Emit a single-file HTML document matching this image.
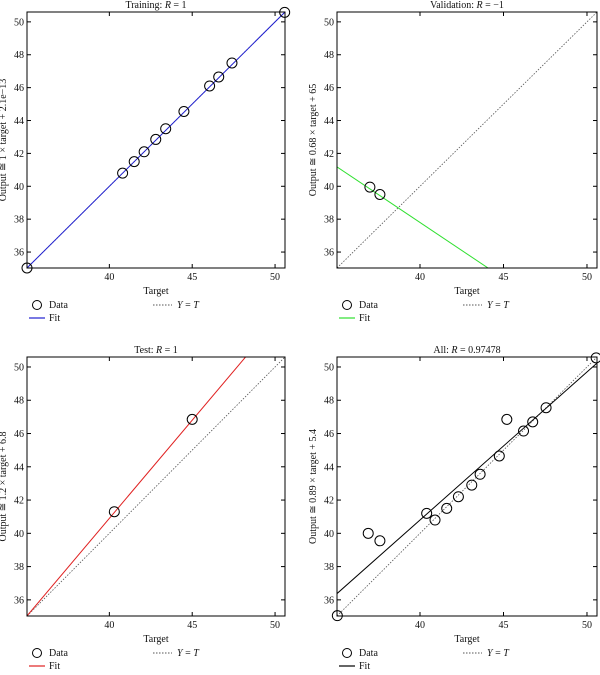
<!DOCTYPE html>
<html><head><meta charset="utf-8"><style>
body{margin:0;background:#fff;width:600px;height:670px;overflow:hidden}
svg text{font-family:"Liberation Serif",serif;fill:#111}
</style></head><body>
<svg id="s" width="600" height="670" xmlns="http://www.w3.org/2000/svg"></svg>
<script>
const trainX=[35.03,40.8,41.5,42.1,42.8,43.4,44.5,46.05,46.6,47.4,50.58];
const trainY=[35.03,40.8,41.5,42.1,42.85,43.5,44.55,46.1,46.65,47.5,50.58];
const valX=[37,37.6];
const valY=[39.95,39.5];
const testX=[40.3,45];
const testY=[41.3,46.85];
const allX=[35.05,36.9,37.6,40.4,40.9,41.6,42.3,43.1,43.6,44.75,45.2,46.2,46.75,47.55,50.55];
const allY=[35.05,40,39.55,41.2,40.8,41.5,42.2,42.9,43.55,44.65,46.85,46.15,46.7,47.55,50.55];
const xTicks=[40,45,50];
const yTicks=[36,38,40,42,44,46,48,50];
const fits=[[1,0],[-0.68,65],[1.18,-6.3],[0.89,5.2]];
const titles=["Training: <tspan font-style='italic'>R</tspan> = 1","Validation: <tspan font-style='italic'>R</tspan> = −1","Test: <tspan font-style='italic'>R</tspan> = 1","All: <tspan font-style='italic'>R</tspan> = 0.97478"];
const ylabels=["Output ≅ 1 × target + 2.1e−13","Output ≅ 0.68 × target + 65","Output ≅ 1.2 × target + 6.8","Output ≅ 0.89 × target + 5.4"];
const colors=["#2020d0","#30e030","#e02020","#000"];
const xs=[trainX,valX,testX,allX], ys=[trainY,valY,testY,allY];
const names=["training","validation","test","all"];
const boxes=[[27,12,285,268],[337,12,597,268],[27,357,285,616],[337,357,597,616]];
const lo=35.03,hi=50.6;
const S=document.getElementById('s');
function mk(t,a,p){const e=document.createElementNS('http://www.w3.org/2000/svg',t);for(const k in a)e.setAttribute(k,a[k]);(p||S).appendChild(e);return e;}
boxes.forEach((b,i)=>{
 const [x0,y0,x1,y1]=b;
 const g=mk('g',{});
 
 
 const sx=v=>x0+(v-lo)/(hi-lo)*(x1-x0), sy=v=>y1-(v-lo)/(hi-lo)*(y1-y0);
 const cp='c'+i;
 const cl=mk('clipPath',{id:cp},g);mk('rect',{x:x0,y:y0,width:x1-x0,height:y1-y0},cl);
 const d=mk('line',{x1:sx(lo),y1:sy(lo),x2:sx(hi),y2:sy(hi),stroke:'#555','stroke-width':0.8,'stroke-dasharray':'1.5,1.5'},g);
 
 
 const [m,c]=fits[i];
 const f=mk('line',{x1:sx(lo),y1:sy(m*lo+c),x2:sx(hi),y2:sy(m*hi+c),stroke:colors[i],'stroke-width':1,'clip-path':`url(#${cp})`},g);
 
 
 mk('rect',{x:x0,y:y0,width:x1-x0,height:y1-y0,fill:'none',stroke:'#000','stroke-width':1},g);
 xTicks.forEach(t=>{const X=sx(t);mk('line',{x1:X,y1:y1,x2:X,y2:y1-4,stroke:'#000'},g);mk('line',{x1:X,y1:y0,x2:X,y2:y0+4,stroke:'#000'},g);
  const tx=mk('text',{x:X,y:y1+12,'font-size':10,'text-anchor':'middle'},g);tx.textContent=t;
  
  });
 yTicks.forEach(t=>{const Y=sy(t);mk('line',{x1:x0,y1:Y,x2:x0+4,y2:Y,stroke:'#000'},g);mk('line',{x1:x1,y1:Y,x2:x1-4,y2:Y,stroke:'#000'},g);
  const tx=mk('text',{x:x0-3,y:Y+3.5,'font-size':10,'text-anchor':'end'},g);tx.textContent=t;
  
  });
 xs[i].forEach((v,j)=>{const p=mk('circle',{cx:sx(v),cy:sy(ys[i][j]),r:5,fill:'none',stroke:'#000','stroke-width':1},g);
  
  });
 const ti=mk('text',{x:(x0+x1)/2,y:y0-4,'font-size':10,'text-anchor':'middle'},g);ti.innerHTML=titles[i];
 
 
 const xl=mk('text',{x:(x0+x1)/2,y:y1+26,'font-size':10,'text-anchor':'middle'},g);xl.textContent='Target';
 
 
 const yl=mk('text',{x:0,y:0,'font-size':10,'text-anchor':'middle',transform:`translate(${x0-21},${(y0+y1)/2}) rotate(-90)`},g);yl.textContent=ylabels[i];
 
 
 const ly=y1+40;
 const lg=mk('g',{},g);
 
 
 mk('circle',{cx:x0+10,cy:ly-3,r:4.5,fill:'none',stroke:'#000'},lg);
 let t=mk('text',{x:x0+22,y:ly,'font-size':10},lg);t.textContent='Data';
 mk('line',{x1:x0+2,y1:ly+10,x2:x0+18,y2:ly+10,stroke:colors[i],'stroke-width':1.2},lg);
 t=mk('text',{x:x0+22,y:ly+13,'font-size':10},lg);t.textContent='Fit';
 mk('line',{x1:x0+126,y1:ly-3,x2:x0+145,y2:ly-3,stroke:'#555','stroke-dasharray':'1.5,1.5'},lg);
 t=mk('text',{x:x0+150,y:ly,'font-size':10},lg);t.innerHTML="<tspan font-style='italic'>Y</tspan> = <tspan font-style='italic'>T</tspan>";
});
</script>
</body></html>
